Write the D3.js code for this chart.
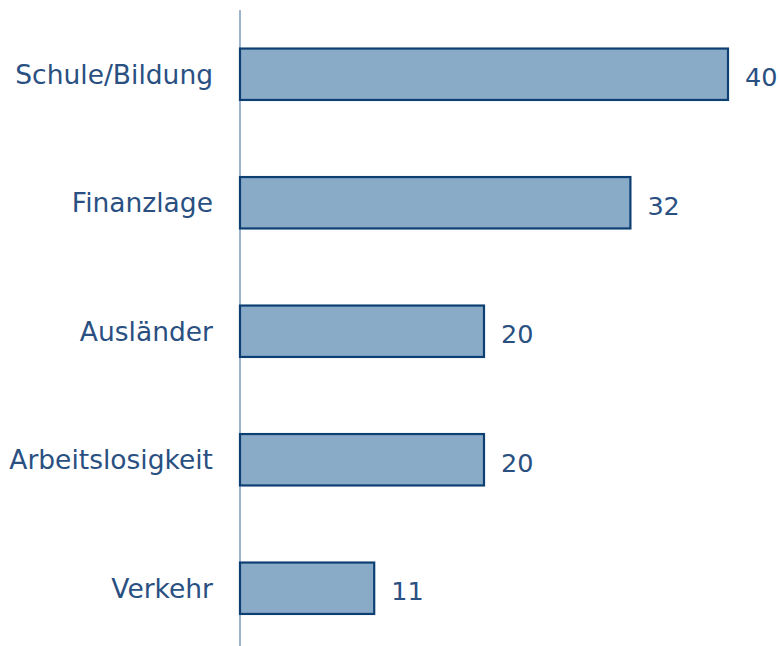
<!DOCTYPE html>
<html><head><meta charset="utf-8">
<script src="https://cdn.jsdelivr.net/npm/d3@7/dist/d3.min.js"></script>
<style>body{margin:0;background:#fff}svg{display:block}</style>
</head><body>
<svg id="c" width="779" height="646"></svg>
<script>
const categories = ["Schule/Bildung","Finanzlage","Ausländer","Arbeitslosigkeit","Verkehr"];
const values = [40,32,20,20,11];

const svg = d3.select("#c");
const x0 = 240;
const x = d3.scaleLinear().domain([0,40]).range([x0, 728]);
const y = d3.scaleBand().domain(categories).range([10, 652.5]).paddingInner(0.6).paddingOuter(0.3);

svg.append("line").attr("x1",x0).attr("x2",x0).attr("y1",10).attr("y2",646)
  .attr("stroke","#5f84ad").attr("stroke-width",1.2);

svg.selectAll("rect.bar").data(values).join("rect").attr("class","bar")
  .attr("x", x(0)).attr("y",(d,i)=>y(categories[i]))
  .attr("width", d=>x(d)-x(0)).attr("height", y.bandwidth())
  .attr("fill","#8aabc8").attr("stroke","#0d3f73").attr("stroke-width",2.2);

const font = "DejaVu Sans, Verdana, sans-serif";
svg.selectAll("text.cat").data(categories).join("text").attr("class","cat")
  .attr("x",213).attr("y",d=>y(d)+y.bandwidth()/2).attr("dy","0.36em")
  .attr("text-anchor","end").attr("font-family",font).attr("font-size",26.5)
  .attr("fill","#2a5082").text(d=>d);

svg.selectAll("text.val").data(values).join("text").attr("class","val")
  .attr("x",d=>x(d)+17).attr("y",(d,i)=>y(categories[i])+y.bandwidth()/2+3).attr("dy","0.36em")
  .attr("font-family",font).attr("font-size",25.5).attr("fill","#2a5082").text(d=>d);
</script>
</body></html>
